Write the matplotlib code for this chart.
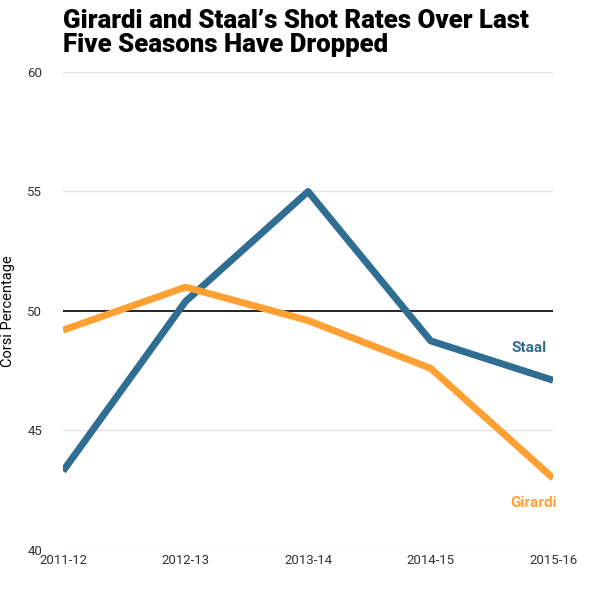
import matplotlib.pyplot as plt

seasons = ['2011-12', '2012-13', '2013-14', '2014-15', '2015-16']
staal = [43.3, 50.4, 55.0, 48.75, 47.1]
girardi = [49.2, 51.0, 49.6, 47.6, 43.0]
yticks = [40, 45, 50, 55, 60]

blue = '#2f6d92'
orange = '#ffa033'

fig = plt.figure(figsize=(6, 5.98), dpi=100)
ax = fig.add_axes([0.105, 0.0803, 0.817, 0.7993])

x = range(len(seasons))
for y in yticks:
    if y == 50:
        ax.axhline(y, color='black', lw=1.2, zorder=1)
    else:
        ax.axhline(y, color='#e3e3e3', lw=1, zorder=1)

ax.plot(x, staal, color=blue, lw=5, solid_capstyle='butt', zorder=3)
ax.plot(x, girardi, color=orange, lw=5, solid_capstyle='butt', zorder=3)

ax.text(3.80, 48.45, 'Staal', color=blue, fontsize=11, fontweight='bold',
        family='Roboto', ha='center', va='center')
ax.text(3.84, 41.97, 'Girardi', color=orange, fontsize=11, fontweight='bold',
        family='Roboto', ha='center', va='center')

ax.set_xlim(0, 4)
ax.set_ylim(40, 60)
ax.set_xticks(list(x))
ax.set_xticklabels(seasons, family='Roboto', fontsize=9.5, color='#333333')
ax.set_yticks(yticks)
ax.set_yticklabels([str(v) for v in yticks], family='Roboto', fontsize=9.5, color='#333333')
ax.tick_params(length=0)
ax.tick_params(axis='y', pad=15)
ax.tick_params(axis='x', pad=3)
for s in ax.spines.values():
    s.set_visible(False)

ax.set_ylabel('Corsi Percentage', family='Roboto', fontsize=10.5, color='black')
ax.yaxis.set_label_coords(-0.098, 0.5)

fig.text(0.105, 0.985, "Girardi and Staal\u2019s Shot Rates Over Last\nFive Seasons Have Dropped",
         family='Roboto', fontweight='black', fontsize=18.6, va='top', ha='left',
         linespacing=1.0)

fig.savefig('out.png', dpi=100)
